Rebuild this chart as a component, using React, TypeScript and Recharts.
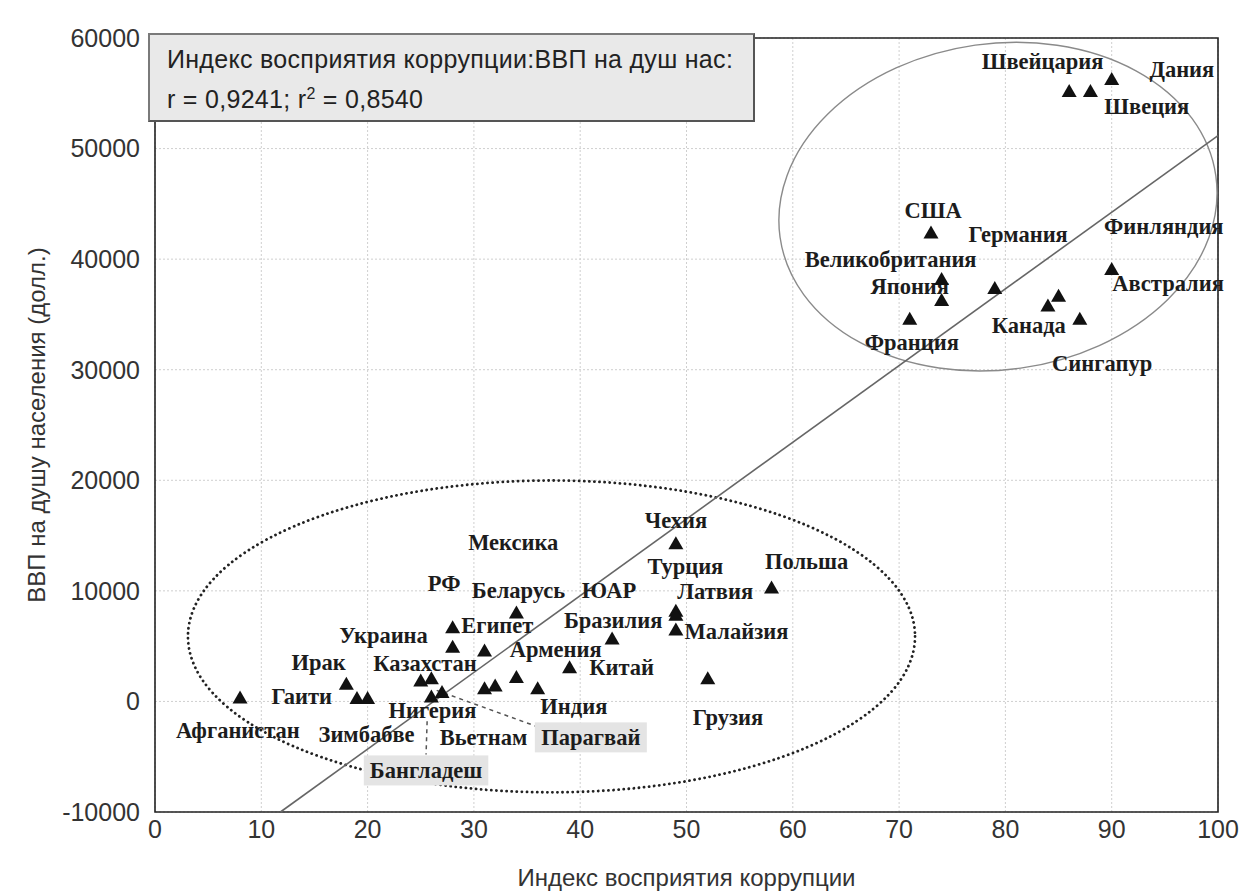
import React from 'react';
import {
  ScatterChart,
  Scatter,
  XAxis,
  YAxis,
  CartesianGrid,
  ReferenceLine,
  ReferenceArea,
} from 'recharts';

// ---- data ----
const pointNames = [
  'Швейцария', 'Швеция', 'Дания', 'США', 'Германия', 'Великобритания', 'Япония', 'Франция',
  'Канада', 'Австралия', 'Финляндия', 'Сингапур',
  'Афганистан', 'Ирак', 'Гаити', 'Зимбабве', 'Казахстан', 'Бангладеш', 'Нигерия', 'Вьетнам',
  'Украина', 'РФ', 'Египет', 'Мексика', 'Парагвай', 'Армения', 'Беларусь', 'Индия', 'Китай',
  'Бразилия', 'Турция', 'Латвия', 'Малайзия', 'Польша', 'Грузия', 'Чехия',
];
const pointCpi = [
  86, 88, 90, 73, 79, 74, 74, 71, 84, 85, 90, 87,
  8, 18, 19, 20, 25, 26, 26, 27, 28, 28, 31, 34, 31, 32, 34, 36, 39, 43, 49, 49, 49, 58, 52, 49,
];
const pointGdp = [
  55200, 55200, 56300, 42400, 37400, 38200, 36300, 34600, 35800, 36700, 39100, 34600,
  360, 1600, 300, 300, 1900, 2100, 450, 850, 4950, 6700, 4600, 8050, 1200, 1450, 2200, 1200,
  3100, 5700, 8200, 7850, 6500, 10300, 2100, 14300,
];

const labelNames = [
  'Швейцария', 'Дания', 'Швеция', 'США', 'Германия', 'Финляндия', 'Великобритания', 'Япония',
  'Австралия', 'Канада', 'Франция', 'Сингапур',
  'Мексика', 'РФ', 'Беларусь', 'ЮАР', 'Египет', 'Украина', 'Ирак', 'Казахстан', 'Гаити',
  'Нигерия', 'Афганистан', 'Зимбабве', 'Вьетнам', 'Парагвай', 'Бангладеш', 'Армения', 'Индия',
  'Китай', 'Бразилия', 'Чехия', 'Турция', 'Латвия', 'Малайзия', 'Польша', 'Грузия',
];
const labelCpi = [
  83.5, 96.6, 93.3, 73.2, 81.2, 94.9, 69.2, 71.0, 95.3, 82.2, 71.2, 89.1,
  33.7, 27.2, 34.2, 42.7, 32.2, 21.5, 15.4, 25.4, 13.8, 26.1, 7.8, 19.9, 30.9, 41.0, 25.5, 37.7,
  39.4, 43.9, 43.1, 49.0, 49.9, 52.7, 54.7, 61.3, 53.9,
];
const labelGdp = [
  57870, 57140, 53800, 44400, 42300, 42950, 39960, 37600, 37800, 34000, 32460, 30560,
  14380, 10670, 10040, 10040, 6870, 5970, 3530, 3440, 450, -820, -2620, -2980, -3250, -3250,
  -6240, 4700, -450, 3070, 7320, 16370, 12200, 9950, 6330, 12660, -1450,
];
const boxedLabels = ['Парагвай', 'Бангладеш'];

const xTicks = [0, 10, 20, 30, 40, 50, 60, 70, 80, 90, 100];
const yTicks = [-10000, 0, 10000, 20000, 30000, 40000, 50000, 60000];
const xMinorTicks = [
  0, 2, 4, 6, 8, 10, 12, 14, 16, 18, 20, 22, 24, 26, 28, 30, 32, 34, 36, 38, 40, 42, 44, 46, 48,
  50, 52, 54, 56, 58, 60, 62, 64, 66, 68, 70, 72, 74, 76, 78, 80, 82, 84, 86, 88, 90, 92, 94, 96,
  98, 100,
];
const yMinorTicks = [
  -10000, -8000, -6000, -4000, -2000, 0, 2000, 4000, 6000, 8000, 10000, 12000, 14000, 16000,
  18000, 20000, 22000, 24000, 26000, 28000, 30000, 32000, 34000, 36000, 38000, 40000, 42000,
  44000, 46000, 48000, 50000, 52000, 54000, 56000, 58000, 60000,
];

const regressionLine = [{ x: 11.8, y: -10000 }, { x: 100, y: 51180 }];
const paraguayLeader = [{ x: 26.5, y: 1000 }, { x: 36.3, y: -2400 }];
const bangladeshLeader = [{ x: 25.6, y: -1800 }, { x: 25.5, y: -4800 }];

const upperEllipse = { x1: 58.6, x2: 100, y1: 30000, y2: 59500, rotate: -8 };
const lowerEllipse = { x1: 3.1, x2: 71.5, y1: -8220, y2: 19980, rotate: 0 };

const points = pointNames.map((name, i) => ({ name, x: pointCpi[i], y: pointGdp[i] }));
const labels = labelNames.map((name, i) => ({ name, x: labelCpi[i], y: labelGdp[i] }));

const SANS = '"Liberation Sans", Arial, sans-serif';
const SERIF = '"Liberation Serif", "Times New Roman", serif';

const Triangle = (props: any) => {
  const { cx, cy } = props;
  if (cx == null || cy == null) return null;
  return (
    <path
      d={`M${cx},${cy - 7} L${cx + 7.5},${cy + 6} L${cx - 7.5},${cy + 6} Z`}
      fill="#111"
    />
  );
};

const CountryLabel = (props: any) => {
  const { cx, cy, payload } = props;
  if (cx == null || cy == null || !payload) return null;
  const boxed = boxedLabels.includes(payload.name);
  const w = payload.name.length * 12.5 + 12;
  return (
    <g>
      {boxed && (
        <rect x={cx - w / 2} y={cy - 15} width={w} height={30} fill="#e4e4e4" />
      )}
      <text
        x={cx}
        y={cy}
        dy="0.35em"
        textAnchor="middle"
        fontFamily={SERIF}
        fontWeight="bold"
        fontSize={22.5}
        fill="#1c1c1c"
      >
        {payload.name}
      </text>
    </g>
  );
};

const makeEllipse = (rotate: number, stroke: string, strokeWidth: number, dash?: string) =>
  (props: any) => {
    const { x, y, width, height } = props;
    if (x == null || y == null) return null;
    const cx = x + width / 2;
    const cy = y + height / 2;
    return (
      <ellipse
        cx={cx}
        cy={cy}
        rx={Math.abs(width) / 2}
        ry={Math.abs(height) / 2}
        transform={`rotate(${rotate} ${cx} ${cy})`}
        fill="none"
        stroke={stroke}
        strokeWidth={strokeWidth}
        strokeDasharray={dash}
        strokeLinecap="round"
      />
    );
  };

const tickStyle = { fontSize: 25, fill: '#333', fontFamily: SANS };

export default function App() {
  return (
    <div style={{ position: 'relative', width: 1245, height: 888, background: '#fff' }}>
      <ScatterChart
        width={1245}
        height={888}
        margin={{ top: 30, right: 35, bottom: 0, left: 0 }}
      >
        <CartesianGrid stroke="#cfcfcf" strokeDasharray="2 2" />
        <XAxis
          type="number"
          dataKey="x"
          domain={[0, 100]}
          ticks={xTicks}
          interval={0}
          height={84}
          tickLine={false}
          axisLine={false}
          tick={tickStyle}
          label={{
            value: 'Индекс восприятия коррупции',
            position: 'insideBottom',
            offset: 10,
            style: { fontSize: 24, fill: '#333', fontFamily: SANS },
          }}
        />
        <YAxis
          type="number"
          dataKey="y"
          domain={[-10000, 60000]}
          ticks={yTicks}
          interval={0}
          width={147}
          tickLine={false}
          axisLine={false}
          tickMargin={9}
          tick={tickStyle}
          label={{
            value: 'ВВП на душу населения (долл.)',
            angle: -90,
            position: 'insideLeft',
            offset: 28,
            style: { fontSize: 24, fill: '#333', fontFamily: SANS, textAnchor: 'middle' },
          }}
        />
        {/* inward tick marks */}
        <XAxis xAxisId="minB" type="number" domain={[0, 100]} ticks={xMinorTicks} interval={0}
          mirror tick={false} axisLine={false} tickSize={4} tickLine={{ stroke: '#333' }} />
        <XAxis xAxisId="majB" type="number" domain={[0, 100]} ticks={xTicks} interval={0}
          mirror tick={false} axisLine={false} tickSize={8} tickLine={{ stroke: '#333' }} />
        <XAxis xAxisId="minT" orientation="top" type="number" domain={[0, 100]} ticks={xMinorTicks}
          interval={0} mirror tick={false} axisLine={false} tickSize={4} tickLine={{ stroke: '#333' }} />
        <YAxis yAxisId="minL" type="number" domain={[-10000, 60000]} ticks={yMinorTicks} interval={0}
          mirror tick={false} axisLine={false} tickSize={4} tickLine={{ stroke: '#333' }} />
        <YAxis yAxisId="majL" type="number" domain={[-10000, 60000]} ticks={yTicks} interval={0}
          mirror tick={false} axisLine={false} tickSize={8} tickLine={{ stroke: '#333' }} />
        <YAxis yAxisId="minR" orientation="right" type="number" domain={[-10000, 60000]}
          ticks={yMinorTicks} interval={0} mirror tick={false} axisLine={false} tickSize={4}
          tickLine={{ stroke: '#333' }} />

        <ReferenceArea
          x1={0}
          x2={100}
          y1={-10000}
          y2={60000}
          fill="none"
          fillOpacity={0}
          stroke="#222"
          strokeWidth={1.6}
          ifOverflow="visible"
        />
        <ReferenceArea
          x1={upperEllipse.x1}
          x2={upperEllipse.x2}
          y1={upperEllipse.y1}
          y2={upperEllipse.y2}
          ifOverflow="visible"
          shape={makeEllipse(upperEllipse.rotate, '#8a8a8a', 1.4)}
        />
        <ReferenceArea
          x1={lowerEllipse.x1}
          x2={lowerEllipse.x2}
          y1={lowerEllipse.y1}
          y2={lowerEllipse.y2}
          ifOverflow="visible"
          shape={makeEllipse(lowerEllipse.rotate, '#222', 2.8, '0.1 5')}
        />
        <ReferenceLine segment={regressionLine} stroke="#666" strokeWidth={1.6} ifOverflow="visible" />
        <ReferenceLine segment={paraguayLeader} stroke="#555" strokeWidth={1.5} strokeDasharray="4 4" ifOverflow="visible" />
        <ReferenceLine segment={bangladeshLeader} stroke="#555" strokeWidth={1.5} strokeDasharray="4 4" ifOverflow="visible" />

        <Scatter data={labels} shape={<CountryLabel />} isAnimationActive={false} />
        <Scatter data={points} shape={<Triangle />} isAnimationActive={false} />
      </ScatterChart>

      <div
        style={{
          position: 'absolute',
          left: 140,
          top: 25,
          width: 603,
          height: 85,
          background: '#e9e9e9',
          border: '2px solid #7a7a7a',
          borderBottomColor: '#555',
          borderRightColor: '#555',
          fontFamily: SANS,
          fontSize: 25,
          letterSpacing: 0.3,
          color: '#222',
          boxSizing: 'content-box',
        }}
      >
        <div style={{ position: 'absolute', left: 17, top: 10, whiteSpace: 'nowrap' }}>
          Индекс восприятия коррупции:ВВП на душ нас:
        </div>
        <div style={{ position: 'absolute', left: 17, top: 50, whiteSpace: 'nowrap' }}>
          r = 0,9241; r<sup style={{ fontSize: 16 }}>2</sup> = 0,8540
        </div>
      </div>
    </div>
  );
}
